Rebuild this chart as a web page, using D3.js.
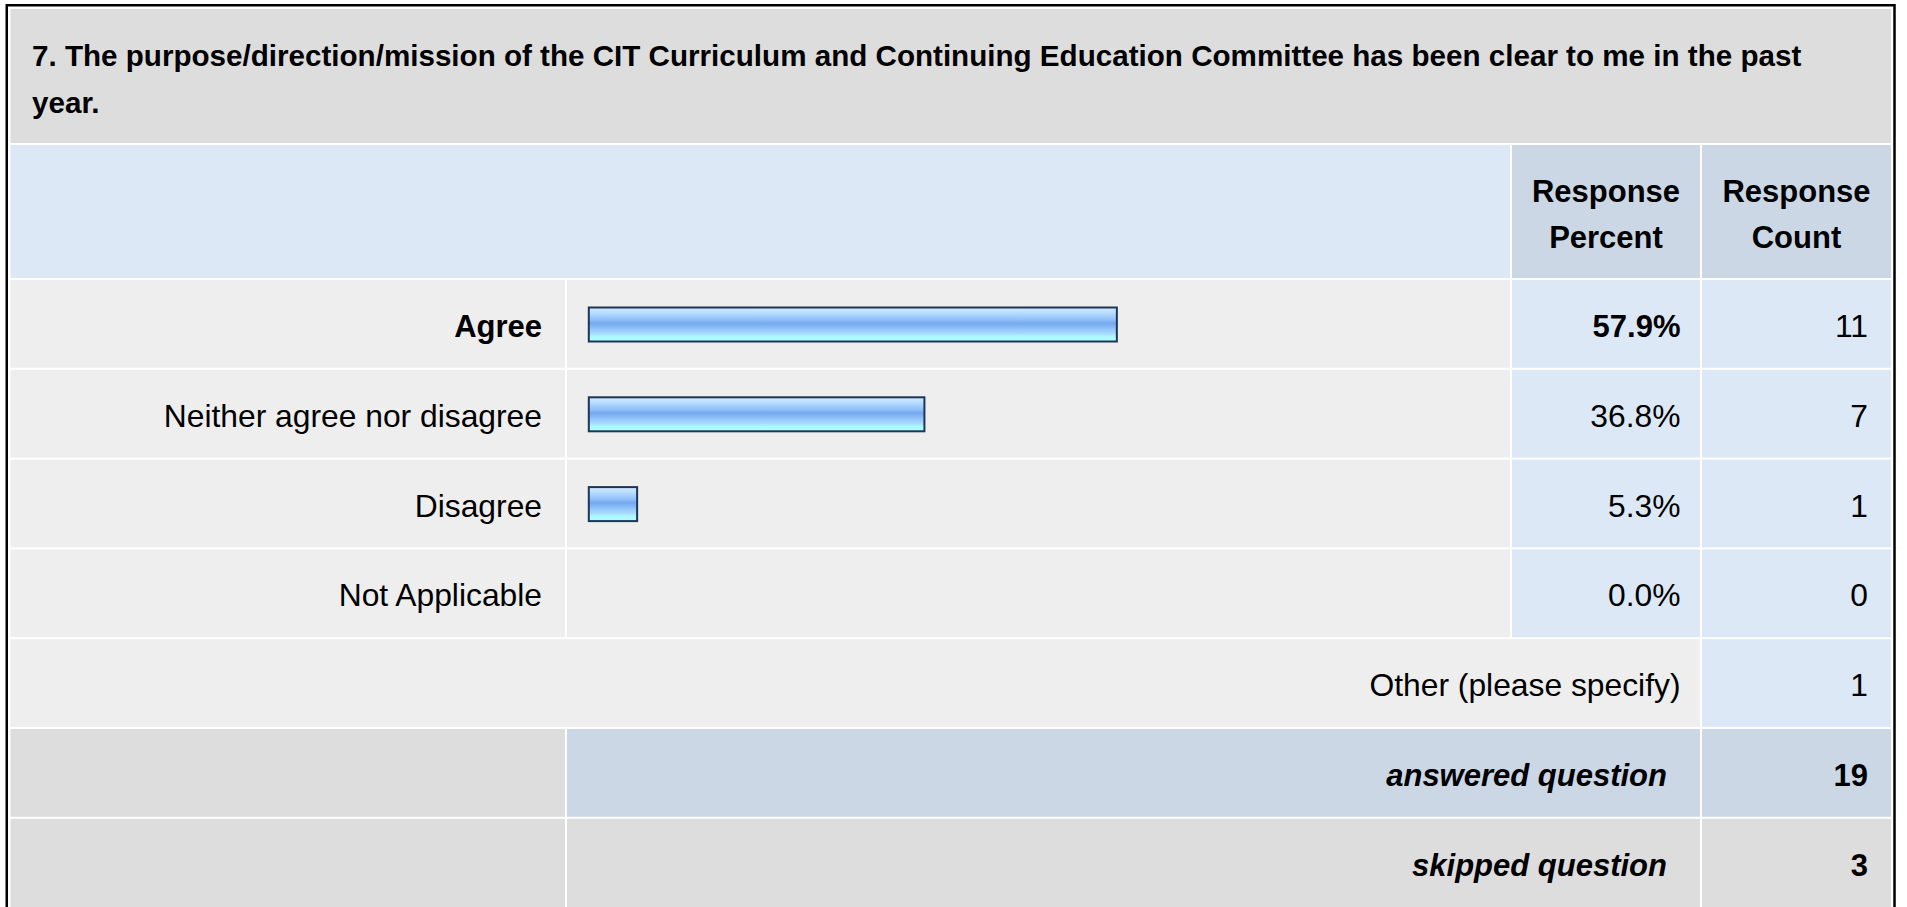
<!DOCTYPE html>
<html>
<head>
<meta charset="utf-8">
<script src="https://d3js.org/d3.v7.min.js"></script>
<style>
    body { margin: 0; background: #fff; }
    svg text { font-family: "Liberation Sans", Arial, sans-serif; fill: #000; }
</style>
</head>
<body>
<div id="chart"></div>
<script>
var titleLines = ["7. The purpose/direction/mission of the CIT Curriculum and Continuing Education Committee has been clear to me in the past", "year."];
var answers = ["Agree", "Neither agree nor disagree", "Disagree", "Not Applicable"];
var percents = [57.9, 36.8, 5.3, 0.0];
var counts = [11, 7, 1, 0];
var headerPercent = ["Response", "Percent"];
var headerCount = ["Response", "Count"];
var otherLabel = "Other (please specify)";
var otherCount = 1;
var summaryLabels = ["answered question", "skipped question"];
var summaryCounts = [19, 3];

(function() {
    var width = 1907;
    var height = 907;
    var svg = d3.select("#chart").append("svg")
        .attr("width", width)
        .attr("height", height);

    // column edges: label, bar, percent, count
    var colL = [10.5, 567, 1512, 1702];
    var colR = [565, 1510, 1700, 1891];
    var pad = 23;
    var fs = 31.8;
    var fsBold = 31;

    var x = d3.scaleLinear().domain([0, 100]).range([0, 912]);
    var rowY = d3.scaleLinear().domain([0, 1]).range([280, 369.8]);
    var rowH = 87.8;

    var defs = svg.append("defs");
    var grad = defs.append("linearGradient")
        .attr("id", "barGrad")
        .attr("x1", 0).attr("y1", 0).attr("x2", 0).attr("y2", 1);
    [[0, "#d2e9ff"], [0.12, "#c0e0ff"], [0.25, "#a4d0ff"], [0.38, "#8cbcf8"],
     [0.46, "#74a8ee"], [0.56, "#84b8f6"], [0.66, "#98cafd"], [0.76, "#a6d8ff"],
     [0.84, "#abf6ff"], [1, "#b0ffff"]].forEach(function(s) {
        grad.append("stop").attr("offset", s[0]).attr("stop-color", s[1]);
    });

    function cell(x0, x1, y0, h, fill) {
        svg.append("rect")
            .attr("x", x0).attr("y", y0)
            .attr("width", x1 - x0).attr("height", h)
            .attr("fill", fill);
    }
    function label(txt, xr, y, opts) {
        opts = opts || {};
        svg.append("text")
            .attr("x", xr).attr("y", y)
            .attr("text-anchor", opts.anchor || "end")
            .attr("font-size", opts.bold ? fsBold : fs)
            .attr("font-weight", opts.bold ? "bold" : "normal")
            .attr("font-style", opts.italic ? "italic" : "normal")
            .text(txt);
    }

    // title row
    cell(colL[0], colR[3], 9, 134, "#dddddd");
    svg.append("text")
        .attr("x", 32).attr("y", 9)
        .attr("font-size", 29.6)
        .attr("font-weight", "bold")
        .selectAll("tspan")
        .data(titleLines)
        .enter().append("tspan")
        .attr("x", 32)
        .attr("y", function(d, i) { return 9 + 56.7 + i * 47.3; })
        .text(function(d) { return d; });

    // header row
    cell(colL[0], colR[1], 145, 133, "#dce8f5");
    cell(colL[2], colR[2], 145, 133, "#cbd7e5");
    cell(colL[3], colR[3], 145, 133, "#cbd7e5");
    [headerPercent, headerCount].forEach(function(h, c) {
        var cx = (colL[c + 2] + colR[c + 2]) / 2;
        h.forEach(function(t, i) {
            label(t, cx, 145 + 56.7 + i * 46.5, {anchor: "middle", bold: true});
        });
    });

    // answer rows
    var maxP = d3.max(percents);
    answers.forEach(function(a, i) {
        var y0 = rowY(i);
        cell(colL[0], colR[0], y0, rowH, "#eeeeee");
        cell(colL[1], colR[1], y0, rowH, "#eeeeee");
        cell(colL[2], colR[2], y0, rowH, "#dce8f6");
        cell(colL[3], colR[3], y0, rowH, "#dce8f6");
        var top = percents[i] === maxP;
        label(a, colR[0] - pad, y0 + 57, {bold: top});
        label(percents[i].toFixed(1) + "%", colR[2] - 19.5, y0 + 57, {bold: top});
        label(counts[i], colR[3] - pad, y0 + 57);
    });

    svg.selectAll("rect.bar")
        .data(percents.filter(function(p) { return p > 0; }))
        .enter().append("rect")
        .attr("class", "bar")
        .attr("x", 588.8)
        .attr("y", function(d, i) { return rowY(i) + 27.5; })
        .attr("width", function(d) { return x(d); })
        .attr("height", 34)
        .attr("fill", "url(#barGrad)")
        .attr("stroke", "#1d3557")
        .attr("stroke-width", 2);

    // other row
    var yo = rowY(answers.length);
    cell(colL[0], colR[2], yo, rowH, "#eeeeee");
    cell(colL[3], colR[3], yo, rowH, "#dce8f6");
    label(otherLabel, colR[2] - 19.5, yo + 57);
    label(otherCount, colR[3] - pad, yo + 57);

    // summary rows
    summaryLabels.forEach(function(s, i) {
        var y0 = rowY(answers.length + 1 + i);
        var h = i === 0 ? rowH : rowH + 20;
        var fill = i === 0 ? "#cbd7e5" : "#dddddd";
        cell(colL[0], colR[0], y0, h, "#dddddd");
        cell(colL[1], colR[2], y0, h, fill);
        cell(colL[3], colR[3], y0, h, fill);
        label(s, colR[2] - 33, y0 + 57, {bold: true, italic: true});
        label(summaryCounts[i], colR[3] - pad, y0 + 57, {bold: true});
    });

    // outer border
    svg.append("rect")
        .attr("x", 6.75).attr("y", 5.25)
        .attr("width", 1894.5 - 6.75)
        .attr("height", 940)
        .attr("fill", "none")
        .attr("stroke", "#000")
        .attr("stroke-width", 2.5);
})();
</script>
</body>
</html>
